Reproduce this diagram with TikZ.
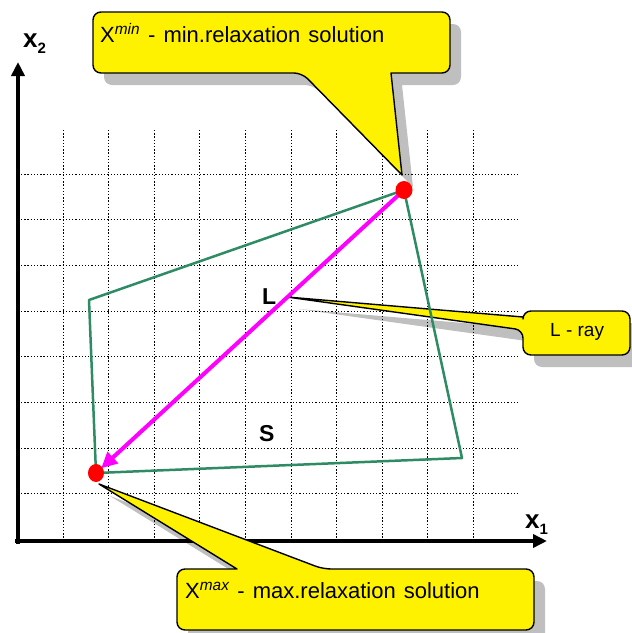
\documentclass[tikz,border=0pt]{standalone}
\usepackage{fontspec}
\setmainfont{Liberation Sans}
\usetikzlibrary{arrows.meta}
\newcommand\widespacing{\spaceskip=8pt plus 2pt\relax}
\tikzset{
  gridline/.style={black, line width=1pt, dash pattern=on 1.3pt off 1.9pt},
  axisline/.style={black, line width=4.3pt, -{Triangle[length=14pt,width=13pt]}},
  region/.style={draw={rgb,255:red,46;green,139;blue,100}, line width=2.5pt, line join=round},
  ray/.style={draw={rgb,255:red,255;green,0;blue,255}, line width=4pt,
    -{Triangle[length=16pt,width=15pt]}, shorten >=7pt},
  dot/.style={fill=red, draw=none},
  calloutbox/.style={fill=yellow, draw=black, line width=1.4pt, line join=round},
  shadowfill/.style={fill=black, opacity=0.25},
  bigtext/.style={font=\fontsize{22}{26}\selectfont\widespacing, inner sep=0pt},
  smalltext/.style={font=\fontsize{19}{22}\selectfont, inner sep=0pt},
  boldlabel/.style={font=\bfseries\fontsize{23}{26}\selectfont, inner sep=0pt},
  axislabel/.style={font=\bfseries\fontsize{26}{28}\selectfont, inner sep=0pt},
}
\newcommand\mycallout[1]{%
  \fill[shadowfill, shift={(11,12)}] #1;
  \path[calloutbox] #1;}
\begin{document}
\begin{tikzpicture}[x=1pt, y=-1pt]
\useasboundingbox (0,0) rectangle (632,633);
% grid
\foreach \k in {0,...,9} {
  \draw[gridline] ({63+45.6*\k},130) -- ({63+45.6*\k},539);
}
\foreach \k in {0,...,7} {
  \draw[gridline] (21,{174+45.7*\k}) -- (518,{174+45.7*\k});
}
% axes
\coordinate (origin) at (18,541);
\coordinate (xend) at (547,541);
\coordinate (yend) at (18,62);
\draw[axisline] (15,541) -- (xend);
\draw[axisline] (18,544) -- (yend);
\node[axislabel, anchor=base west] (x2lab) at (23,47) {x\raisebox{-6pt}{\fontsize{15}{15}\selectfont 2}};
\node[axislabel, anchor=base west] (x1lab) at (525,528) {x\raisebox{-6pt}{\fontsize{15}{15}\selectfont 1}};
% callouts
\mycallout{(200,12) [rounded corners=8pt] -- (93,12) -- (93,73) -- (302,73) [sharp corners] -- (402,175) -- (391,73) [rounded corners=8pt] -- (450,73) -- (450,12) -- cycle}
\mycallout{(400,630) [rounded corners=8pt] -- (534,630) -- (534,569) -- (323,569) [sharp corners] -- (99,484) -- (237,569) [rounded corners=8pt] -- (177,569) -- (177,630) -- cycle}
\mycallout{(580,355) [rounded corners=8pt] -- (523,355) -- (523,330) [sharp corners] -- (287,297) -- (523,317) [rounded corners=8pt] -- (523,311) -- (630,311) -- (630,355) -- cycle}
\node[bigtext, anchor=base west] (tmin) at (100,42) {X\textsuperscript{\itshape min} - min.relaxation solution};
\node[bigtext, anchor=base west] (tmax) at (185,598) {X\textsuperscript{\itshape max} - max.relaxation solution};
\node[smalltext, anchor=base west] (tray) at (550,336) {L - ray};
% region S
\coordinate (A) at (404,190);
\coordinate (B) at (89,300);
\coordinate (C) at (96,473);
\coordinate (D) at (462,458);
\draw[region] (A) -- (B) -- (C) -- (D) -- cycle;
% ray
\draw[ray] (A) -- (C);
% points
\fill[dot] (A) ellipse [x radius=8.5, y radius=9];
\fill[dot] (C) ellipse [x radius=8, y radius=9];
% labels
\node[boldlabel, anchor=base west] (Llab) at (262,304) {L};
\node[boldlabel, anchor=base west] (Slab) at (259,441) {S};
\end{tikzpicture}
\end{document}
